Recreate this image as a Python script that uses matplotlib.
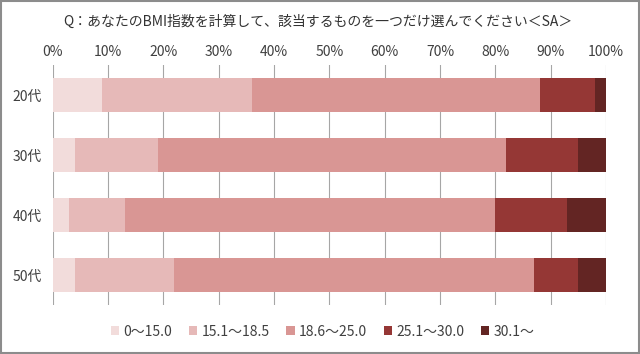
import matplotlib
matplotlib.use("Agg")
import matplotlib.pyplot as plt
from matplotlib.patches import Rectangle
import numpy as np

plt.rcParams["font.family"] = ["Noto Sans CJK JP", "DejaVu Sans"]

# data (percent per age group)
ages = ["20代", "30代", "40代", "50代"]
bmi_bins = ["0～15.0", "15.1～18.5", "18.6～25.0", "25.1～30.0", "30.1～"]
shares = {
    "0～15.0": [9, 4, 3, 4],
    "15.1～18.5": [27, 15, 10, 18],
    "18.6～25.0": [52, 63, 67, 65],
    "25.1～30.0": [10, 13, 13, 8],
    "30.1～": [2, 5, 7, 5],
}
colors = ["#F2DCDB", "#E6B9B8", "#D99694", "#953735", "#632523"]
xticks = [0, 10, 20, 30, 40, 50, 60, 70, 80, 90, 100]

title = "Q：あなたのBMI指数を計算して、該当するものを一つだけ選んでください＜SA＞"
text_col = "#404040"

fig = plt.figure(figsize=(6.4, 3.54), dpi=100)
ax = fig.add_axes([0.0823, 0.1384, 0.8645, 0.678])

y = np.arange(len(ages))
left = np.zeros(len(ages))
for name, col in zip(bmi_bins, colors):
    vals = np.array(shares[name], dtype=float)
    ax.barh(y, vals, left=left, height=0.567, color=col, label=name, zorder=2)
    left += vals

ax.set_xlim(0, 100)
ax.set_ylim(3.5, -0.5)
ax.set_xticks(xticks)
ax.set_xticklabels([f"{v}%" for v in xticks], fontsize=10, color=text_col)
ax.set_yticks(y)
ax.set_yticklabels(ages, fontsize=10, color=text_col)
ax.xaxis.tick_top()
ax.tick_params(axis="both", length=0)
ax.tick_params(axis="x", pad=4)
ax.tick_params(axis="y", pad=8)
ax.grid(axis="x", color="#A6A6A6", linewidth=0.8, zorder=0)
for s in ax.spines.values():
    s.set_visible(False)

fig.text(0.497, 1 - 21.5 / 354, title, ha="center", va="center",
         fontsize=10, color="#333333")

fig.legend(loc="center", bbox_to_anchor=(0.504, 0.063), ncol=5,
           frameon=False, fontsize=10, handlelength=0.6, handleheight=0.6,
           handletextpad=0.3, columnspacing=1.2, labelcolor=text_col)

# grey frame around the picture
fig.patches.append(Rectangle((0.002, 0.003), 0.996, 0.994, transform=fig.transFigure,
                             fill=False, edgecolor="#8C8C8C", linewidth=1.5))

fig.savefig("out.png", dpi=100)
